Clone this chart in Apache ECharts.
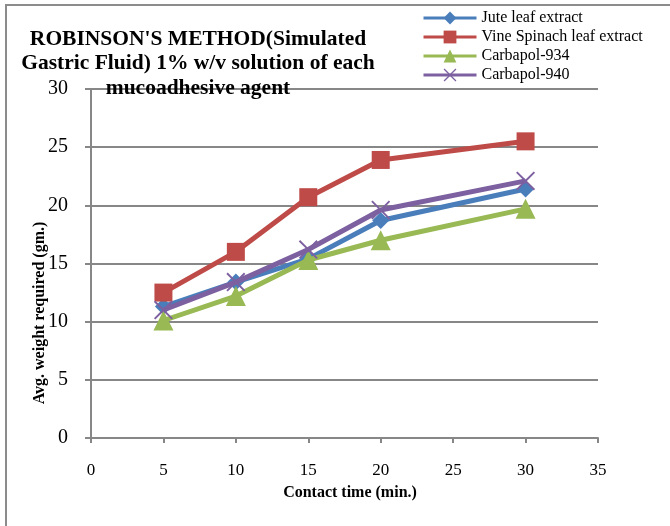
<!DOCTYPE html>
<html>
<head>
<meta charset="utf-8">
<script src="https://cdn.jsdelivr.net/npm/echarts@6/dist/echarts.min.js"></script>
<style>
  html, body { margin: 0; padding: 0; background: #ffffff; }
  #chart { width: 670px; height: 526px; }
</style>
</head>
<body>
<div id="chart"></div>
<script>
// Contact time (min.) on the x axis
const contactTimes = [5, 10, 15, 20, 30];

// Average weight required (gm.) for each mucoadhesive agent
const juteLeaf = [11.3, 13.4, 15.4, 18.7, 21.4];
const vineSpinachLeaf = [12.5, 16.0, 20.7, 23.9, 25.5];
const carbapol934 = [10.1, 12.2, 15.3, 17.0, 19.7];
const carbapol940 = [11.0, 13.4, 16.2, 19.6, 22.1];

const seriesNames = ['Jute leaf extract', 'Vine Spinach leaf extract', 'Carbapol-934', 'Carbapol-940'];
const seriesValues = [juteLeaf, vineSpinachLeaf, carbapol934, carbapol940];
const seriesColors = ['#4A7EBB', '#BE4B48', '#98B954', '#7D60A0'];

// thin "x" cross marker
const crossPath = 'path://M0,1L1,0L7,6L13,0L14,1L8,7L14,13L13,14L7,8L1,14L0,13L6,7Z';
const seriesSymbols = ['diamond', 'rect', 'triangle', crossPath];
const symbolSizes = [17, 18, 20, 19];

const serif = '"Liberation Serif", "Times New Roman", serif';
const gridGray = '#878787';

const chart = echarts.init(document.getElementById('chart'), null, { renderer: 'canvas' });

chart.setOption({
  animation: false,
  backgroundColor: '#ffffff',
  title: {
    text: "ROBINSON'S METHOD(Simulated\nGastric Fluid) 1% w/v solution of each\nmucoadhesive agent",
    left: 198,
    top: 27,
    textAlign: 'center',
    padding: 0,
    textStyle: {
      fontFamily: serif,
      fontSize: 21.5,
      fontWeight: 'bold',
      color: '#000000',
      lineHeight: 24.5
    }
  },
  legend: {
    orient: 'vertical',
    left: 422,
    top: 10,
    itemWidth: 53,
    itemHeight: 16,
    itemGap: 3,
    padding: 0,
    data: seriesNames,
    lineStyle: { width: 3 },
    textStyle: { fontFamily: serif, fontSize: 16, color: '#000000' }
  },
  grid: { left: 91, right: 72, top: 89, bottom: 88, containLabel: false },
  xAxis: {
    type: 'value',
    min: 0,
    max: 35,
    interval: 5,
    axisLine: { show: true, lineStyle: { color: gridGray, width: 2 } },
    axisTick: { show: true, inside: false, length: 5, lineStyle: { color: gridGray, width: 2 } },
    splitLine: { show: false },
    axisLabel: { margin: 24, fontFamily: serif, fontSize: 17, color: '#000000' }
  },
  yAxis: {
    type: 'value',
    min: 0,
    max: 30,
    interval: 5,
    axisLine: { show: true, lineStyle: { color: gridGray, width: 2 } },
    axisTick: { show: true, inside: false, length: 6, lineStyle: { color: gridGray, width: 2 } },
    splitLine: { show: true, lineStyle: { color: gridGray, width: 2 } },
    axisLabel: { margin: 23, fontFamily: serif, fontSize: 20, color: '#000000' }
  },
  series: seriesNames.map((name, i) => ({
    name: name,
    type: 'line',
    data: contactTimes.map((t, j) => [t, seriesValues[i][j]]),
    symbol: seriesSymbols[i],
    symbolSize: symbolSizes[i],
    showAllSymbol: true,
    z: 2 + i,
    lineStyle: { color: seriesColors[i], width: 5 },
    itemStyle: { color: seriesColors[i], borderWidth: 0 },
    emphasis: { disabled: true }
  })),
  graphic: [
    {
      type: 'rect',
      silent: true,
      z: -1,
      shape: { x: 6, y: 5, width: 700, height: 560 },
      style: { fill: 'none', stroke: '#8C8C8C', lineWidth: 2 }
    },
    {
      type: 'text',
      x: 40,
      y: 313,
      rotation: Math.PI / 2,
      style: {
        text: 'Avg. weight required (gm.)',
        fontFamily: serif,
        fontSize: 16,
        fontWeight: 'bold',
        fill: '#000000',
        align: 'center',
        verticalAlign: 'middle'
      }
    },
    {
      type: 'text',
      x: 350,
      y: 493,
      style: {
        text: 'Contact time (min.)',
        fontFamily: serif,
        fontSize: 16,
        fontWeight: 'bold',
        fill: '#000000',
        align: 'center',
        verticalAlign: 'middle'
      }
    }
  ]
});
</script>
</body>
</html>
